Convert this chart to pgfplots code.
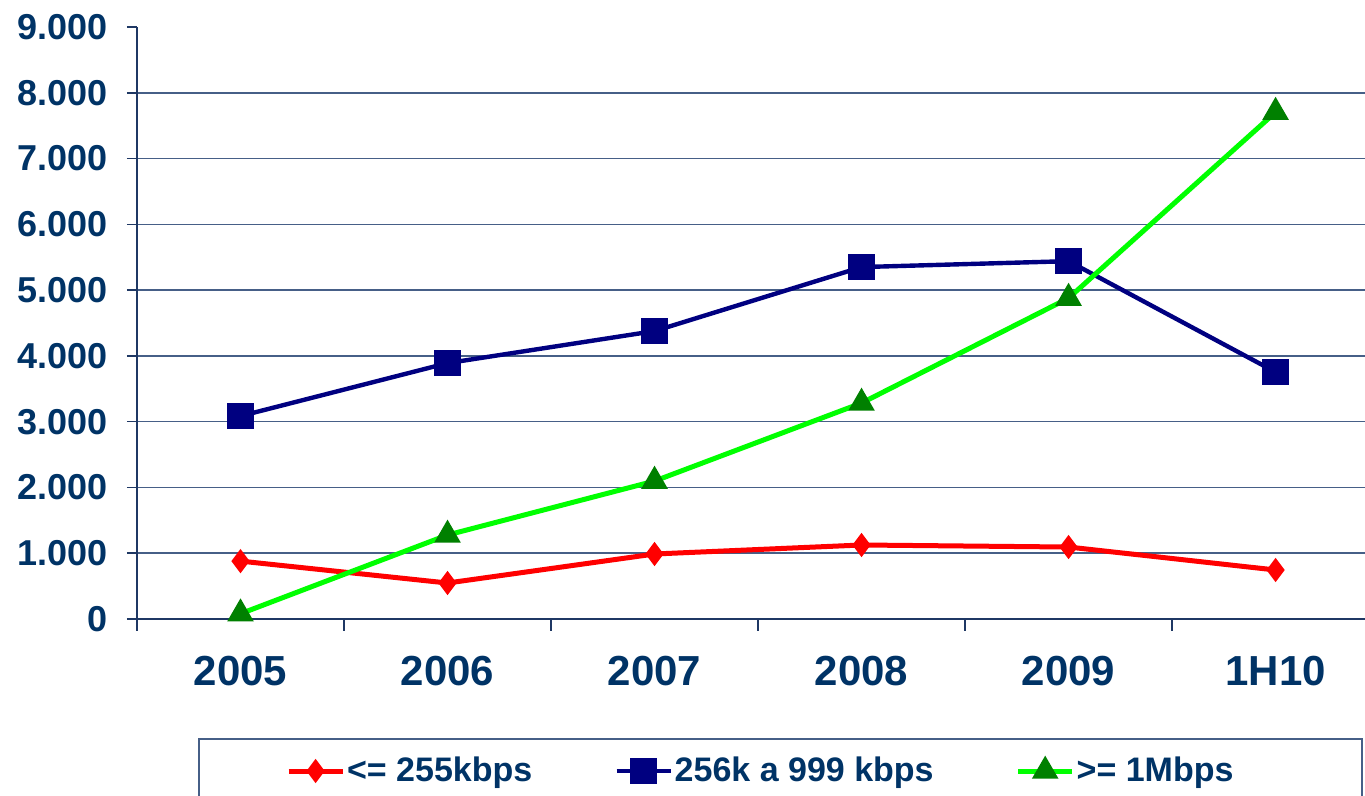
\documentclass[border=0pt]{standalone}
\usepackage{fontspec}
\setmainfont{Liberation Sans}
\usepackage{pgfplots}
\pgfplotsset{compat=1.18}
\definecolor{txt}{RGB}{0,51,102}
\definecolor{gridc}{RGB}{70,95,135}
\definecolor{axc}{RGB}{31,56,100}
\definecolor{navy}{RGB}{0,0,128}
\definecolor{dkgreen}{RGB}{0,128,0}
\definecolor{lime}{RGB}{0,255,0}

\begin{document}
\begin{tikzpicture}
\begin{axis}[
  scale only axis, width=614pt, height=296pt,
  xmin=-0.5, xmax=5.432, ymin=0, ymax=9000,
  axis lines*=left, axis line style={axc, line width=0.8pt},
  tick align=outside, tick pos=left,
  xtick={0,...,5}, xticklabels={2005,2006,2007,2008,2009,1H10},
  minor xtick={-0.5,0.5,...,4.5},
  major x tick style={draw=none},
  major tick length=5pt, minor tick length=6pt,
  tick style={axc, line width=0.8pt},
  ytick={0,1000,...,8000}, extra y ticks={9000}, extra y tick style={grid=none},
  ymajorgrids, grid style={gridc, line width=0.8pt},
  scaled y ticks=false,
  /pgf/number format/1000 sep={.},
  /pgf/number format/assume math mode=true,
  yticklabel style={font=\fontsize{18}{18}\selectfont\bfseries, text=txt, xshift=-6pt},
  xticklabel style={font=\fontsize{21}{21}\selectfont\bfseries, text=txt, yshift=-10pt},
  legend columns=3,
  legend style={draw=none, fill=none, at={(0.508,-0.2568)}, anchor=center,
    font=\fontsize{17}{17}\selectfont\bfseries, text=txt,
    nodes={inner xsep=1pt},
    /tikz/every even column/.append style={column sep=40pt}},
  legend image code/.code={\draw[mark repeat=2,mark phase=2,#1] plot coordinates {(0pt,0pt) (13.5pt,0pt) (27pt,0pt)};},
]
\addplot[red, line width=2.5pt, mark=diamond*, mark size=4pt, mark options={solid}]
  coordinates {(0,880) (1,547) (2,988) (3,1125) (4,1094) (5,745)};
\addlegendentry{<= 255kbps}
\addplot[navy, line width=2.2pt, mark=square*, mark size=5.5pt, mark options={solid}]
  coordinates {(0,3085) (1,3890) (2,4377) (3,5350) (4,5440) (5,3754)};
\addlegendentry{256k a 999 kbps}
\addplot[lime, line width=2.5pt, mark=triangle*, mark size=5.2pt, mark options={solid, fill=dkgreen, draw=dkgreen}]
  coordinates {(0,80) (1,1277) (2,2097) (3,3283) (4,4878) (5,7705)};
\addlegendentry{>= 1Mbps}
\end{axis}
\draw[gridc, line width=0.8pt] (31pt,-60pt) rectangle (612.5pt,-100pt);
\pgfresetboundingbox
\useasboundingbox (-68.5pt,-88.5pt) rectangle (614pt,309.5pt);
\end{tikzpicture}
\end{document}
